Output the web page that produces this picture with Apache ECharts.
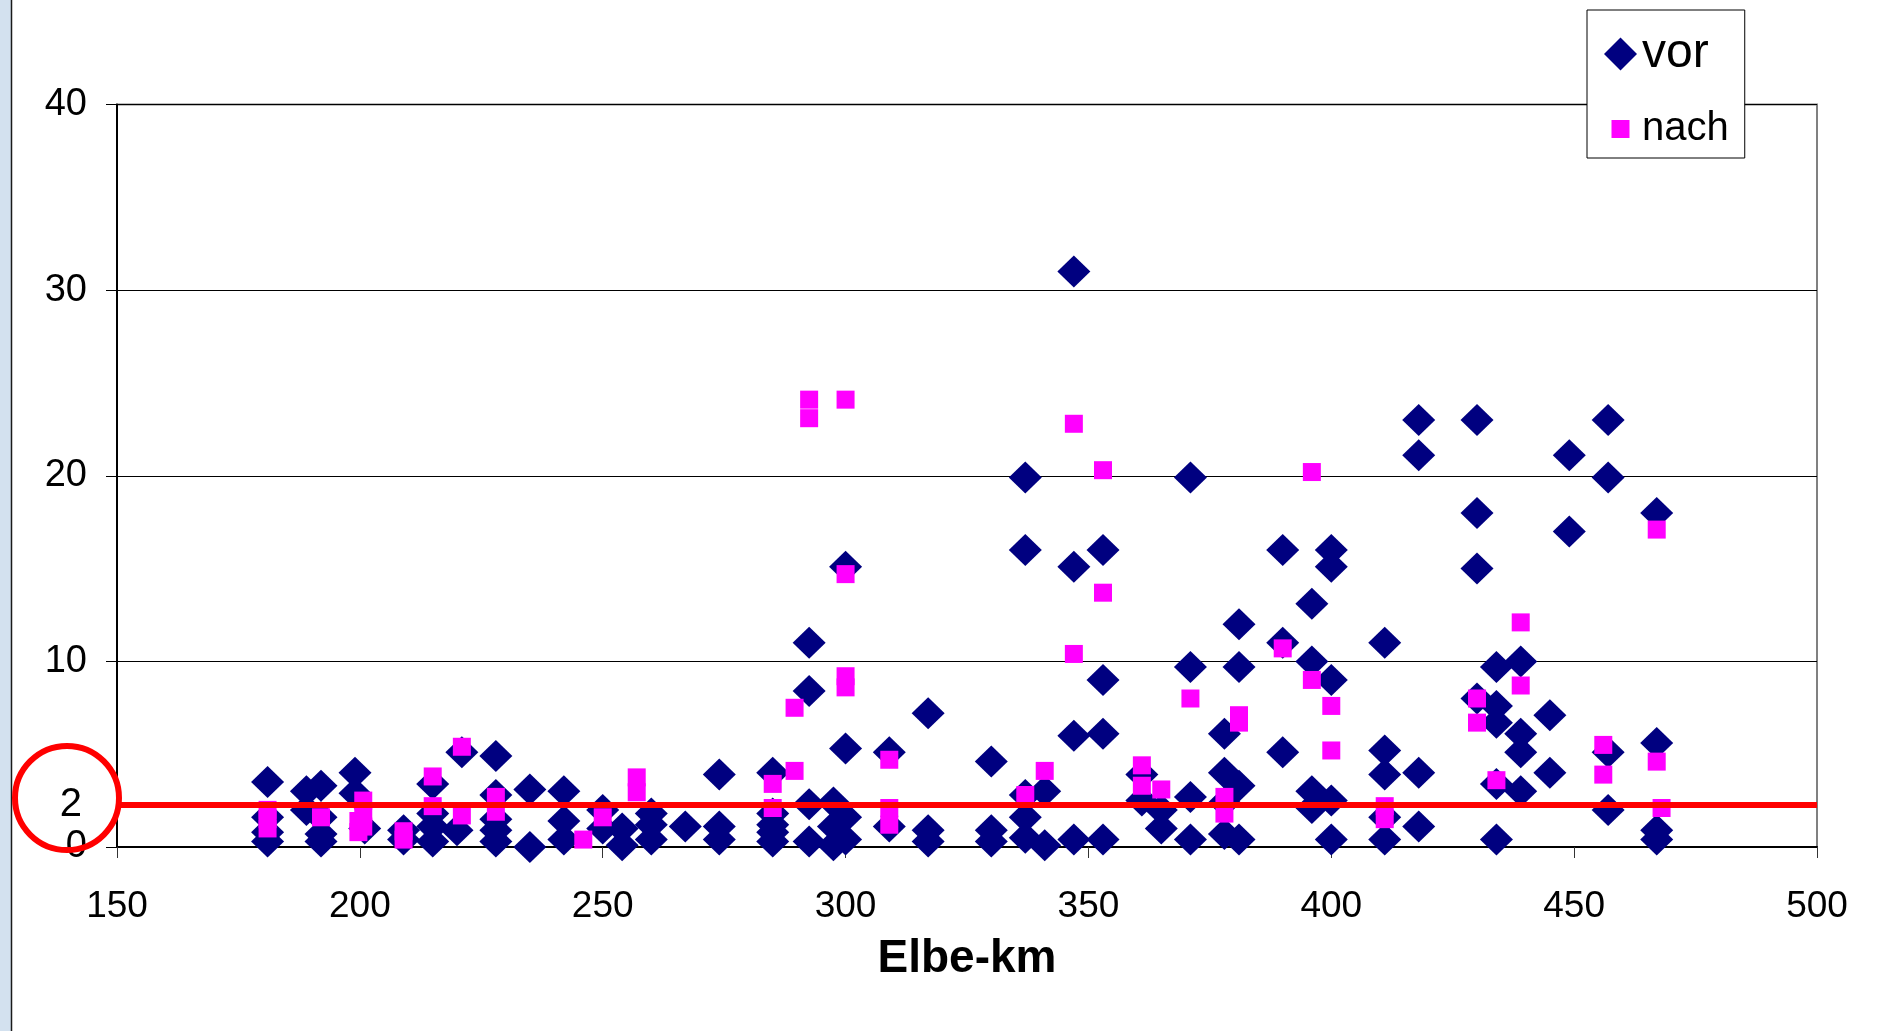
<!DOCTYPE html>
<html>
<head>
<meta charset="utf-8">
<script src="https://cdn.jsdelivr.net/npm/echarts@6/dist/echarts.min.js"></script>
<style>
html,body{margin:0;padding:0;background:#fff;}
#chart{width:1897px;height:1031px;}
</style>
</head>
<body>
<div id="chart"></div>
<script>
// Elbe-km of "vor" samples and their values
const vorKm  = [181,181,181,181, 189,189, 192,192,192,192, 199,199,201, 209,209, 215,215,215,215, 220, 221,
  228,228,228,228,228, 235,235, 242,242,242, 250,250, 254,254, 260,260,260, 267, 274,274,274,
  285,285,285,285,285, 292.5,292.5,292.5,292.5, 297.5,297.5,297.5, 300,300,300,300, 309,309,
  317,317,317, 330,330,330, 337,337,337,337,337, 341,341, 347,347,347,347, 353,353,353,353,
  361,361, 365,365, 371,371,371,371, 378,378,378,378, 381,381,381,381, 390,390,390,
  396,396,396,396, 400,400,400,400,400, 411,411,411,411,411, 418,418,418,418,
  430,430,430,430, 434,434,434,434,434, 439,439,439,439, 445,445, 449,449,
  457,457,457,457, 467,467,467,467];
const vorVal = [3.5,1.6,0.8,0.3, 3.0,2.0, 3.3,1.6,0.7,0.3, 4.0,2.9,1.0, 0.9,0.4, 3.4,1.8,1.1,0.3, 0.9, 5.1,
  4.9,2.8,1.5,0.9,0.3, 3.1,0.0, 3.0,1.4,0.4, 2.0,1.0, 1.0,0.1, 1.8,1.2,0.4, 1.1, 3.9,1.1,0.4,
  4.0,1.8,1.2,0.8,0.3, 11.0,8.4,2.3,0.3, 2.4,1.1,0.1, 15.1,5.3,1.6,0.4, 5.1,1.1,
  7.2,0.9,0.3, 4.6,0.9,0.3, 19.9,16.0,2.8,1.6,0.5, 3.0,0.1, 31.0,15.1,6.0,0.4, 16.0,9.0,6.1,0.4,
  3.9,2.5, 2.0,1.0, 19.9,9.7,2.7,0.4, 6.1,4.0,2.4,0.7, 12.0,9.7,3.3,0.4, 16.0,11.0,5.1,
  13.1,10.0,3.0,2.1, 16.0,15.1,9.0,2.5,0.4, 11.0,5.2,3.9,1.6,0.4, 23.0,21.1,4.0,1.1,
  23.0,18.0,15.0,8.0, 9.7,7.6,6.7,3.4,0.4, 10.0,6.1,5.1,3.0, 7.1,4.0, 21.1,17.0,
  23.0,19.9,5.1,2.0, 18.0,5.6,0.9,0.4];

// Elbe-km of "nach" samples and their values
const nachKm  = [181,181,181, 192, 199.7,199.7, 200.7,200.7,200.7, 209,209, 215,215, 221,221, 228,228,
  246, 250, 257,257, 285,285, 289.5,289.5, 292.5,292.5, 300,300,300,300, 309,309,309,
  337, 341, 347,347, 353,353, 361,361, 365, 371, 378,378, 381,381, 390, 396,396, 400,400,
  411,411, 430,430, 434, 439,439, 456,456, 467,467,468];
const nachVal = [2.0,1.5,1.0, 1.6, 1.4,0.8, 2.5,1.8,1.1, 0.85,0.4, 3.8,2.2, 5.4,1.7, 2.7,1.9,
  0.4, 1.6, 3.75,2.95, 3.4,2.1, 7.5,4.1, 24.1,23.1, 24.1,14.7,9.2,8.6, 4.7,2.1,1.2,
  2.8, 4.1, 22.8,10.4, 20.3,13.7, 4.4,3.3, 3.1, 8.0, 2.7,1.8, 7.1,6.7, 10.7, 20.2,9.0, 7.6,5.2,
  2.2,1.5, 8.0,6.7, 3.6, 12.1,8.7, 5.5,3.9, 17.1,4.6,2.1];

// axis ticks and annotation
const xTicks = [150, 200, 250, 300, 350, 400, 450, 500];
const yTicks = [0, 10, 20, 30, 40];
const limitValue = 2.25;   // red limit line (labelled "2")
const limitLabel = '2';
const seriesNames = ['vor', 'nach'];
const xName = 'Elbe-km';

const vorData = vorKm.map((k, i) => [k, vorVal[i]]);
const nachData = nachKm.map((k, i) => [k, nachVal[i]]);

const FONT = '"Liberation Sans", Arial, sans-serif';
const chart = echarts.init(document.getElementById('chart'), null, {renderer: 'canvas'});

chart.setOption({
  backgroundColor: '#ffffff',
  animation: false,
  textStyle: {fontFamily: FONT},
  grid: {
    left: 117, right: 80, top: 104.5, bottom: 184,
    show: true, backgroundColor: '#ffffff', borderColor: '#808080', borderWidth: 2
  },
  legend: {
    orient: 'vertical',
    left: 1587, top: 10,
    padding: [20, 16, 9, 17],
    itemGap: 31,
    itemWidth: 33, itemHeight: 33,
    itemTextGap: 18,
    backgroundColor: '#ffffff',
    borderColor: '#000000', borderWidth: 1,
    data: [
      {name: seriesNames[0], icon: 'diamond'},
      {name: seriesNames[1], icon: 'path://M0,0M33,33M7.5,7.5L25.5,7.5L25.5,25.5L7.5,25.5Z'}
    ],
    formatter: n => n === seriesNames[0] ? '{v|' + n + '}' : '{n|' + n + '}',
    textStyle: {
      color: '#000', fontFamily: FONT,
      rich: {
        v: {fontSize: 48, lineHeight: 52, fontFamily: FONT, color: '#000'},
        n: {fontSize: 40, lineHeight: 48, fontFamily: FONT, color: '#000'}
      }
    }
  },
  xAxis: {
    type: 'value', min: xTicks[0], max: xTicks[xTicks.length - 1], interval: 50,
    name: xName, nameLocation: 'middle', nameGap: 89,
    nameTextStyle: {fontSize: 46, fontWeight: 'bold', color: '#000', fontFamily: FONT},
    axisLine: {show: true, onZero: false, lineStyle: {color: '#000', width: 2}},
    axisTick: {show: true, inside: false, length: 11, lineStyle: {color: '#333', width: 1}},
    axisLabel: {fontSize: 37, color: '#000', margin: 41, fontFamily: FONT},
    splitLine: {show: false}
  },
  yAxis: {
    type: 'value', min: yTicks[0], max: yTicks[yTicks.length - 1], interval: 10,
    axisLine: {show: true, onZero: false, lineStyle: {color: '#000', width: 2}},
    axisTick: {show: true, inside: false, length: 11, lineStyle: {color: '#000', width: 1}},
    axisLabel: {fontSize: 38, color: '#000', margin: 30, fontFamily: FONT},
    splitLine: {show: true, lineStyle: {color: '#000', width: 1}}
  },
  series: [
    {
      name: seriesNames[0], type: 'scatter', symbol: 'diamond', symbolSize: [33, 32],
      itemStyle: {color: '#000080', opacity: 1},
      data: vorData, z: 3
    },
    {
      name: seriesNames[1], type: 'scatter', symbol: 'rect', symbolSize: 18,
      itemStyle: {color: '#FF00FF', opacity: 1},
      data: nachData, z: 4
    },
    {
      name: 'limit', type: 'line', data: [], z: 10,
      markLine: {
        silent: true, symbol: ['none', 'none'], animation: false,
        lineStyle: {color: '#FF0000', width: 6, type: 'solid'},
        label: {show: true, position: 'start', distance: 35, formatter: limitLabel,
                fontSize: 40, color: '#000', fontFamily: FONT},
        data: [{yAxis: limitValue}]
      }
    }
  ],
  graphic: [
    {type: 'rect', left: 0, top: 0, shape: {width: 11, height: 1031},
     style: {fill: '#d3e1ef'}, z: 0},
    {type: 'line', shape: {x1: 11.5, y1: 0, x2: 11.5, y2: 1031},
     style: {stroke: '#1a1a1a', lineWidth: 1.5}, z: 1},
    {type: 'circle', shape: {cx: 67, cy: 798, r: 52},
     style: {fill: null, stroke: '#FF0000', lineWidth: 6}, z: 100}
  ]
});
</script>
</body>
</html>
